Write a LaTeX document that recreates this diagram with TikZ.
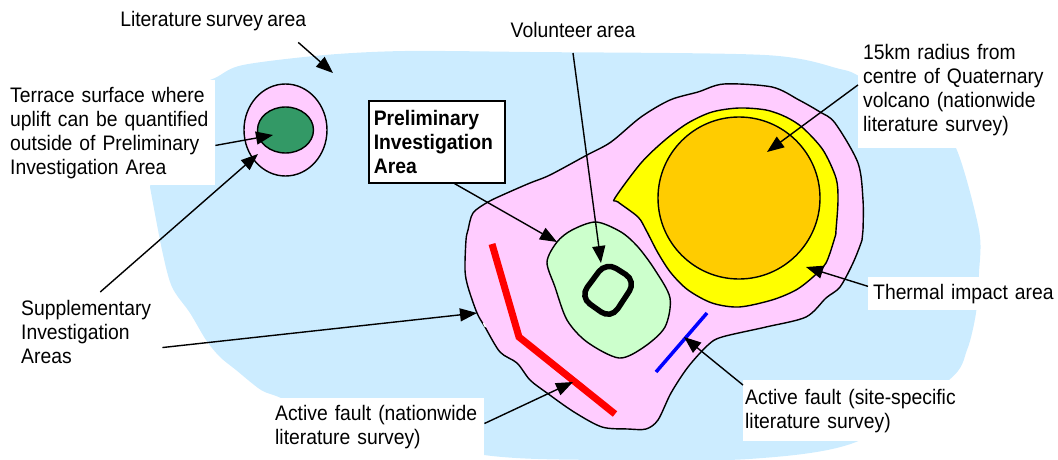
\documentclass[tikz,border=0pt]{standalone}
\usepackage{fontspec}
\setmainfont[FakeStretch=0.92, WordSpace=0.8]{Liberation Sans}
\usepackage{xcolor}
\usetikzlibrary{arrows.meta, shapes.geometric}
\definecolor{surveyblue}{HTML}{CCECFF}
\definecolor{zonepink}{HTML}{FFCCFF}
\definecolor{zonegreen}{HTML}{CCFFCC}
\definecolor{terracegreen}{HTML}{339966}
\definecolor{thermalyellow}{HTML}{FFFF00}
\definecolor{volcanoorange}{HTML}{FFCC00}

\begin{document}
\begin{tikzpicture}[
    x=1pt, y=-1pt,
    every node/.style={font=\fontsize{21}{24}\selectfont},
    callout/.style={fill=white, align=left, inner ysep=0pt},
    pointer/.style={line width=1.4pt, -{Triangle[length=17pt, width=13pt]}},
    zone/.style={draw, line width=1.4pt, smooth cycle, tension=0.5},
]
\useasboundingbox (0,0) rectangle (1058,460);

% areas
\fill[surveyblue] plot[smooth, tension=0.5] coordinates {(150,187) (172,100) (215,78) (243,65) (325,55) (405,51) (530,52) (765,55) (840,69) (861,77) (925,110) (956,148) (979,230) (979,273) (976,313) (967,350) (949,380) (856,442) (749,459) (600,460) (484,455) (340,425) (281,398) (261,390) (236,370) (220,357) (206,340) (190,313) (172,287) (162,250) (150,187)};
\draw[zone, fill=zonepink] plot coordinates {(468,230) (473,213) (488,202) (507,193) (530,183) (550,175) (587,155) (611,142) (641,117) (670,100) (698,92) (724,84) (772,87) (799,100) (820,112) (835,123) (858,163) (863,200) (863,230) (862,240) (853,263) (840,287) (826,298) (806,317) (766,327) (722,337) (708,345) (688,367) (671,393) (658,420) (646,429) (628,429) (602,427) (574,412) (547,393) (530,380) (517,363) (500,352) (485,327) (477,313) (468,287) (465,270) (466,240)};
\draw[white, line width=1.5pt] (483.5,323) -- (485.5,327);
\draw[zone, fill=thermalyellow] plot coordinates {(615,198) (641,163) (665,140) (688,123) (712,112) (739,108) (766,110) (786,117) (803,128) (823,150) (836,178) (838,200) (836,230) (835,237) (826,263) (813,277) (796,290) (772,300) (739,307) (712,303) (688,290) (671,273) (658,253) (646,230) (638,217) (618,202)};
\draw[line width=1.4pt, fill=volcanoorange] (739,198) circle (81);
\draw[zone, fill=zonegreen] plot coordinates {(596,222) (572,230) (557,242) (547,262) (555,287) (567,320) (587,342) (619,358) (644,347) (665,327) (670,298) (655,270) (638,247) (621,232)};
\draw[line width=5.5pt, rounded corners=12pt] (606,262) -- (636,281) -- (611,319) -- (580,297) -- cycle;
\draw[line width=1.4pt, fill=zonepink] (285.5,130) ellipse (41.5 and 46);
\draw[line width=1.4pt, fill=terracegreen] (285.5,130) ellipse (28 and 23);

% faults
\draw[red, line width=7pt] (492,244) -- (519,337) -- (615,414);
\draw[blue, line width=3.5pt] (707,313) -- (656,372);

% labels
\node[callout, anchor=north west, inner xsep=2pt, text width=203pt, minimum height=105pt] (terrace) at (8,80) {Terrace surface where\\uplift can be quantified\\outside of Preliminary\\Investigation Area};
\node[anchor=north west, inner sep=0pt, minimum width=192pt, minimum height=42pt] (literature) at (117,0) {Literature survey area};
\node[anchor=south, inner sep=0pt, minimum height=46pt] (volunteer) at (573,53) {Volunteer area};
\node[callout, draw, line width=1.6pt, anchor=north west, inner xsep=5pt, text width=126pt, minimum height=82pt, font=\fontsize{21}{24}\selectfont\bfseries] (prelim) at (368,100) {Preliminary\\Investigation\\Area};
\node[callout, anchor=north west, inner xsep=5pt, text width=190pt, minimum height=116pt] (volcano) at (858,32) {15km radius from\\centre of Quaternary\\volcano (nationwide\\literature survey)};
\node[callout, anchor=north west, inner xsep=5pt, text width=200pt, minimum height=33pt] (thermal) at (868,277) {Thermal impact area};
\node[callout, anchor=north west, inner xsep=2pt, text width=218pt, minimum height=61pt] (sitefault) at (743,380) {Active fault (site-specific\\literature survey)};
\node[callout, anchor=north west, inner xsep=1pt, text width=208pt, minimum height=58pt] (nationfault) at (274,398) {Active fault (nationwide\\literature survey)};
\node[anchor=north west, inner xsep=3pt, inner ysep=0pt, text width=138pt, align=left, minimum height=80pt] (supplementary) at (18,292) {Supplementary\\Investigation\\Areas};

% arrow ends inside the areas
\coordinate (survey-tip) at (333,73);
\coordinate (terrace-tip) at (273,135);
\coordinate (ring-tip) at (258,154);
\coordinate (edge-tip) at (477,313);
\coordinate (prelim-tip) at (557,242);
\coordinate (volunteer-tip) at (601,263);
\coordinate (volcano-tip) at (767,152);
\coordinate (thermal-tip) at (806,267);
\coordinate (sitefault-tip) at (684,337);
\coordinate (nationfault-tip) at (573,382);

\draw[pointer] (literature.-14) -- (survey-tip);
\draw[pointer] (terrace.-7) -- (terrace-tip);
\draw[pointer] (supplementary.76) -- (ring-tip);
\draw[pointer] (supplementary.-12) -- (edge-tip);
\draw[pointer] (prelim.-67.5) -- (prelim-tip);
\draw[pointer] (volunteer.south) -- (volunteer-tip);
\draw[pointer] (volcano.177) -- (volcano-tip);
\draw[pointer] (thermal.176.5) -- (thermal-tip);
\draw[pointer] (sitefault.167.3) -- (sitefault-tip);
\draw[pointer] (nationfault.2) -- (nationfault-tip);
\end{tikzpicture}
\end{document}
